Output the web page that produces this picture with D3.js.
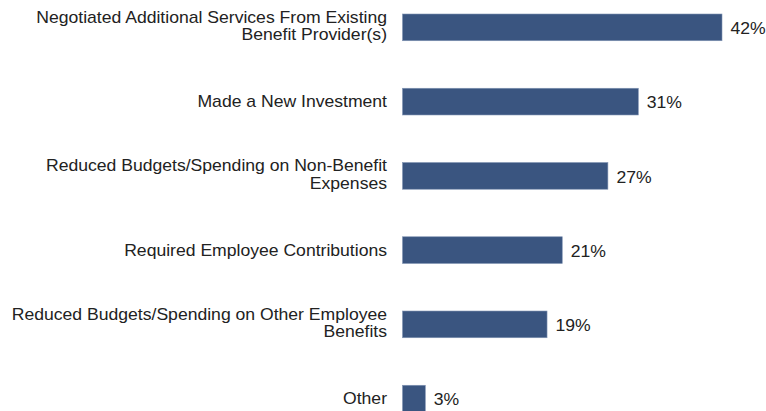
<!DOCTYPE html>
<html>
<head>
<meta charset="utf-8">
<script src="https://cdn.jsdelivr.net/npm/d3@7"></script>
<style>
  html, body { margin: 0; padding: 0; background: #fff; }
  svg { display: block; }
  text { font-family: "Liberation Sans", Arial, sans-serif; fill: #222; }
</style>
</head>
<body>
<div id="chart"></div>
<script>
// Category labels (each entry is the list of lines for that label)
const categories = [
  ["Negotiated Additional Services From Existing", "Benefit Provider(s)"],
  ["Made a New Investment"],
  ["Reduced Budgets/Spending on Non-Benefit", "Expenses"],
  ["Required Employee Contributions"],
  ["Reduced Budgets/Spending on Other Employee", "Benefits"],
  ["Other"]
];
// Share of respondents, in percent
const values = [42, 31, 27, 21, 19, 3];

const W = 766, H = 411;
const fontSize = 16;
const stretch = 1.1;   // slightly wide lettering
const lineH = 17.8;

const svg = d3.select("#chart").append("svg")
  .attr("width", W).attr("height", H);

const keys = categories.map(c => c.join(" "));

const x = d3.scaleLinear().domain([0, 42]).range([402.5, 722]);
const y = d3.scaleBand().domain(keys).range([14, 412])
  .paddingInner(0.64).paddingOuter(0);

const rows = svg.append("g").selectAll("g")
  .data(keys.map((k, i) => ({ key: k, lines: categories[i], value: values[i] })))
  .join("g");

rows.append("rect")
  .attr("x", x(0))
  .attr("y", d => y(d.key))
  .attr("width", d => x(d.value) - x(0))
  .attr("height", y.bandwidth())
  .attr("fill", "#3a5580")
  .attr("stroke", "#8194b3")
  .attr("stroke-width", 0.6);

// Category labels, right-aligned to the left of the bars
rows.append("text")
  .attr("text-anchor", "end")
  .attr("font-size", fontSize)
  .attr("transform", d => {
    const cy = y(d.key) + y.bandwidth() / 2;
    return `translate(387,${cy}) scale(${stretch},1)`;
  })
  .each(function (d) {
    const n = d.lines.length;
    const first = 5.6 - (n - 1) * (lineH / 2 + 1.5);
    d3.select(this).selectAll("tspan")
      .data(d.lines)
      .join("tspan")
      .attr("x", 0)
      .attr("y", (l, j) => first + j * lineH)
      .text(l => l);
  });

// Value labels at the end of each bar
rows.append("text")
  .attr("font-size", fontSize)
  .attr("transform", d =>
    `translate(${x(d.value) + 8.5},${y(d.key) + y.bandwidth() / 2 + 6.8}) scale(${stretch},1)`)
  .text(d => d.value + "%");
</script>
</body>
</html>
